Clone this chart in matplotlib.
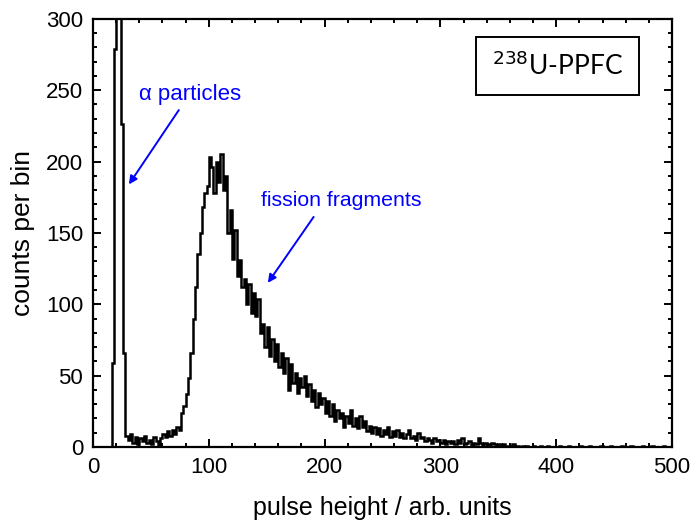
import numpy as np
import matplotlib
matplotlib.use('Agg')
import matplotlib.pyplot as plt
from matplotlib.ticker import MultipleLocator

# counts per 2-unit bin, 0..500
bin_width = 2
counts = [
    0, 0, 0, 0, 0, 0, 0, 0, 59, 279,            # 0-20
    3000, 3000, 226, 66, 8, 5, 9, 3, 7, 2,      # 20-40
    6, 4, 8, 3, 5, 2, 7, 4, 1, 6,               # 40-60
    9, 7, 11, 8, 12, 9, 14, 12, 24, 29,         # 60-80
    37, 48, 66, 90, 112, 135, 150, 168, 178, 183,
    203, 196, 178, 200, 186, 205, 180, 190, 150, 166,
    132, 152, 120, 131, 112, 118, 100, 114, 94, 108,
    92, 104, 80, 86, 70, 84, 64, 76, 60, 72,
    56, 66, 52, 62, 40, 58, 45, 52, 38, 48,
    42, 50, 36, 44, 32, 40, 28, 38, 30, 34,
    24, 32, 22, 30, 18, 26, 20, 24, 14, 22,
    17, 26, 15, 20, 13, 22, 14, 18, 11, 15,
    10, 14, 9, 13, 8, 12, 9, 14, 7, 11,
    8, 12, 7, 10, 6, 9, 12, 6, 8, 5,
    10, 6, 7, 4, 6, 5, 3, 6, 4, 5,
    3, 5, 2, 4, 3, 4, 2, 5, 3, 6,
    2, 3, 4, 1, 3, 2, 6, 3, 1, 3,
    2, 1, 3, 2, 1, 2, 0, 2, 1, 0,
    1, 2, 0, 1, 0, 1, 0, 1, 0, 0,
    1, 0, 0, 1, 0, 0, 1, 0, 0, 0,
    0, 1, 0, 0, 0, 1, 0, 0, 0, 0,
    1, 0, 0, 0, 1, 0, 0, 0, 0, 1,
    0, 0, 0, 1, 0, 0, 0, 0, 1, 0,
    0, 0, 1, 0, 0, 0, 0, 1, 0, 0,
    0, 1, 0, 0, 0, 0, 1, 0, 0, 0,
]
edges = np.arange(len(counts) + 1) * bin_width

xlabel = 'pulse height / arb. units'
ylabel = 'counts per bin'
alpha_label = 'α particles'
ff_label = 'fission fragments'

plt.rcParams['font.family'] = ['Liberation Sans', 'DejaVu Sans']

fig = plt.figure(figsize=(6.91, 5.24), dpi=100)
ax = fig.add_axes([0.1346, 0.147, 0.838, 0.817])

ax.stairs(counts, edges, color='black', lw=1.8, baseline=0)

ax.set_xlim(0, 500)
ax.set_ylim(0, 300)
ax.xaxis.set_major_locator(MultipleLocator(100))
ax.xaxis.set_minor_locator(MultipleLocator(20))
ax.yaxis.set_major_locator(MultipleLocator(50))
ax.yaxis.set_minor_locator(MultipleLocator(10))
ax.tick_params(which='both', direction='in', top=True, right=True,
               labelsize=16, width=1.4)
ax.tick_params(which='major', length=6, pad=7)
ax.tick_params(which='minor', length=3)
for s in ax.spines.values():
    s.set_linewidth(1.6)

ax.set_xlabel(xlabel, fontsize=18, labelpad=13)
ax.set_ylabel(ylabel, fontsize=19, labelpad=8)

ax.annotate(alpha_label, xy=(31, 184), xytext=(40, 247),
            color='blue', fontsize=16, va='center', ha='left',
            arrowprops=dict(arrowstyle='-|>', color='blue', lw=1.4,
                            shrinkA=2, shrinkB=0, mutation_scale=12,
                            relpos=(0.42, 0.0)))
ax.annotate(ff_label, xy=(151, 115), xytext=(145, 173),
            color='blue', fontsize=15.3, va='center', ha='left',
            arrowprops=dict(arrowstyle='-|>', color='blue', lw=1.4,
                            shrinkA=4, shrinkB=0, mutation_scale=12,
                            relpos=(0.36, 0.0)))

ax.add_patch(plt.Rectangle((0.661, 0.822), 0.282, 0.136, transform=ax.transAxes,
                           fill=False, ec='black', lw=1.4))
ax.text(0.802, 0.89, r'$^{238}$U-PPFC', transform=ax.transAxes,
        ha='center', va='center', fontsize=19, family=['Lato', 'DejaVu Sans'])

fig.savefig('out.png', dpi=100)
